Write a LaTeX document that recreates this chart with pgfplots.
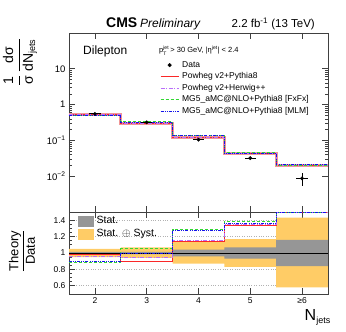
\documentclass[border=0pt]{standalone}
\usepackage{pgfplots}
\pgfplotsset{compat=1.18}
\usepackage{pgfplotstable}
\usepackage{fontspec}
\setmainfont{Liberation Sans}
\definecolor{cred}{RGB}{250,40,40}
\definecolor{cpink}{RGB}{240,150,150}
\definecolor{cpurple}{RGB}{185,110,250}
\definecolor{cgreen}{RGB}{50,215,50}
\definecolor{cblue}{RGB}{20,20,235}
\definecolor{cyel}{RGB}{255,204,102}
\definecolor{cgray}{RGB}{150,150,150}

% upper panel: theory at bin edges (value holds to the right)
\pgfplotstableread{
x red purple green blue
1.5 0.54 0.53 0.485 0.495
2.5 0.29 0.305 0.336 0.317
3.5 0.12 0.121 0.135 0.134
4.5 0.0425 0.043 0.0445 0.0435
5.5 0.0195 0.0195 0.0193 0.0214
6.5 0.0195 0.0195 0.0193 0.0214
}\theory
\pgfplotstableread{
x y ex ey
2 0.55 0.11 0.010
3 0.32 0.11 0.006
4 0.105 0.11 0.004
5 0.032 0.11 0.0025
6 0.0087 0.11 0.0033
}\data
% ratio panel
\pgfplotstableread{
x red purple green blue
1.5 0.98 0.96 0.88 0.90
2.5 0.90 0.95 1.05 0.99
3.5 1.14 1.155 1.29 1.28
4.5 1.33 1.35 1.39 1.36
5.5 1.497 1.497 1.497 1.497
6.5 1.497 1.497 1.497 1.497
}\ratio

\pgfplotsset{
  cmsaxis/.style={
    scale only axis, width=259pt,
    xmin=1.5, xmax=6.5,
    xtick={2,3,4,5,6},
    tick align=inside,
    major tick length=6pt, minor tick length=3pt,
    axis line style={black!75, line width=0.8pt},
    tick style={black!75, line width=0.6pt},
    ticklabel style={font=\fontsize{8.5}{9}\selectfont},
    /pgf/number format/assume math mode=true,
    legend cell align=left,
  },
}

\begin{document}
\begin{tikzpicture}[x=1pt,y=1pt]
\path (0,0) rectangle (346,332);

% ---------------- upper panel ----------------
\begin{axis}[cmsaxis,
  at={(69pt,120pt)}, anchor=south west, height=179pt,
  ymode=log, ymin=1e-3, ymax=100,
  xticklabels={},
  ytick={0.01,0.1,1,10},
  yticklabels={10\textsuperscript{−2},10\textsuperscript{−1},1,10},
  yticklabel style={font=\fontsize{9.5}{10}\selectfont},
  legend style={at={(0.352,0.850)}, anchor=north west, draw=none, fill=none,
    inner sep=0pt, outer sep=0pt, row sep=1pt, column sep=2pt,
    font=\fontsize{8.5}{9}\selectfont,
    nodes={inner sep=1pt, text height=6.5pt, text depth=2pt}},
  legend image code/.code={\draw[#1] (0pt,0pt) -- (18pt,0pt);},
]
\addplot[cpink, line width=3pt, const plot mark left, forget plot] table[x=x,y=red] {\theory};
\addplot[cred, line width=0.8pt, const plot mark left, forget plot] table[x=x,y=red] {\theory};
\addplot[cpurple, line width=1pt, dash pattern=on 4pt off 1.5pt on 1pt off 1.5pt, const plot mark left, forget plot] table[x=x,y=purple] {\theory};
\addplot[cgreen, line width=1pt, dash pattern=on 3pt off 2pt, const plot mark left, forget plot] table[x=x,y=green] {\theory};
\addplot[cblue, line width=1pt, dash pattern=on 3pt off 1.2pt on 0.8pt off 1.2pt on 0.8pt off 1.2pt, const plot mark left, forget plot] table[x=x,y=blue] {\theory};
\addplot[black, only marks, mark=*, mark size=1.7pt, forget plot,
  error bars/.cd, x dir=both, x explicit, y dir=both, y explicit, error mark=none,
  error bar style={line width=0.8pt}]
  table[x=x,y=y,x error=ex,y error=ey] {\data};

\addlegendimage{legend image code/.code={\fill[black] (9pt,0pt) circle (1.8pt);}}
\addlegendentry{Data}
\addlegendimage{draw=cred, line width=0.8pt}
\addlegendentry{Powheg v2+Pythia8}
\addlegendimage{draw=cpurple, line width=1pt, dash pattern=on 4pt off 1.5pt on 1pt off 1.5pt}
\addlegendentry{Powheg v2+Herwig++}
\addlegendimage{draw=cgreen, line width=1pt, dash pattern=on 3pt off 2pt}
\addlegendentry{MG5\_aMC@NLO+Pythia8 [FxFx]}
\addlegendimage{draw=cblue, line width=1pt, dash pattern=on 3pt off 1.2pt on 0.8pt off 1.2pt on 0.8pt off 1.2pt}
\addlegendentry{MG5\_aMC@NLO+Pythia8 [MLM]}
\end{axis}

% ---------------- ratio panel ----------------
\begin{axis}[cmsaxis,
  at={(69pt,38pt)}, anchor=south west, height=82pt,
  ymin=0.5, ymax=1.5,
  ytick={0.6,0.8,1,1.2,1.4},
  yticklabels={0.6,0.8,1,1.2,1.4},
  minor y tick num=3,
  xticklabels={2,3,4,5,≥6},
  ymajorgrids, grid style={dotted, black!30, line width=0.6pt},
  legend style={at={(0.036,0.967)}, anchor=north west, draw=none, fill=none,
    inner sep=0pt, outer sep=0pt, row sep=0.5pt, column sep=2pt,
    font=\fontsize{10.5}{11}\selectfont,
    nodes={inner sep=1pt, text height=8pt, text depth=2.5pt}},
]
% Stat. (+) Syst. band
\addplot[fill=cyel, draw=none, forget plot] coordinates {
 (1.5,1.05) (2.5,1.05) (2.5,1.07) (3.5,1.07) (3.5,1.14) (4.5,1.14) (4.5,1.17) (5.5,1.17) (5.5,1.43) (6.5,1.43)
 (6.5,0.58) (5.5,0.58) (5.5,0.83) (4.5,0.83) (4.5,0.87) (3.5,0.87) (3.5,0.94) (2.5,0.94) (2.5,0.95) (1.5,0.95)} -- cycle;
% Stat. band
\addplot[fill=cgray, draw=none, forget plot] coordinates {
 (1.5,1.015) (2.5,1.015) (2.5,1.015) (3.5,1.015) (3.5,1.04) (4.5,1.04) (4.5,1.07) (5.5,1.07) (5.5,1.16) (6.5,1.16)
 (6.5,0.84) (5.5,0.84) (5.5,0.93) (4.5,0.93) (4.5,0.96) (3.5,0.96) (3.5,0.985) (2.5,0.985) (2.5,0.985) (1.5,0.985)} -- cycle;
\addplot[black, line width=0.8pt, forget plot] coordinates {(1.5,1) (6.5,1)};
\addplot[cred, line width=0.9pt, const plot mark left, forget plot] table[x=x,y=red] {\ratio};
\addplot[cpurple, line width=1pt, dash pattern=on 4pt off 1.5pt on 1pt off 1.5pt, const plot mark left, forget plot] table[x=x,y=purple] {\ratio};
\addplot[cgreen, line width=1pt, dash pattern=on 3pt off 2pt, const plot mark left, forget plot] table[x=x,y=green] {\ratio};
\addplot[cblue, line width=1pt, dash pattern=on 3pt off 1.2pt on 0.8pt off 1.2pt on 0.8pt off 1.2pt, const plot mark left, forget plot] table[x=x,y=blue] {\ratio};

\addlegendimage{legend image code/.code={\fill[cgray] (0pt,-5pt) rectangle (15pt,5pt);}}
\addlegendentry{Stat.}
\addlegendimage{legend image code/.code={\fill[cyel] (0pt,-5pt) rectangle (15pt,5pt);}}
\addlegendentry{Stat. $\oplus$ Syst.}
\end{axis}

% ---------------- texts ----------------
\node[anchor=base west, inner sep=0pt] at (106,304) {\fontsize{14}{14}\selectfont\bfseries CMS};
\node[anchor=base west, inner sep=0pt] at (140,304) {\fontsize{12}{12}\selectfont\itshape Preliminary};
\node[anchor=base east, inner sep=0pt] at (315,304) {\fontsize{11.5}{12}\selectfont 2.2 fb\textsuperscript{-1} (13 TeV)};
\node[anchor=base west, inner sep=0pt] at (83,277) {\fontsize{12}{12}\selectfont Dilepton};
\node[anchor=base west, inner sep=0pt] at (159,279) {\fontsize{7.5}{8}\selectfont $\mbox{p}^{\mbox{\fontsize{5}{5}\selectfont jet}}_{\mbox{\fontsize{5}{5}\selectfont T}}$\,> 30 GeV, |η$^{\mbox{\fontsize{5}{5}\selectfont jet}}$| < 2.4};
\node[rotate=90, inner sep=0pt] at (20,270) {\fontsize{14}{14}\selectfont $\displaystyle\frac{\mbox{1}}{\mbox{σ}}\,\frac{\mbox{dσ}}{\mbox{dN}_{\mbox{\fontsize{9}{9}\selectfont jets}}}$};
\node[rotate=90, inner sep=0pt] at (22,81) {\fontsize{13}{13}\selectfont $\displaystyle\frac{\mbox{Theory}}{\mbox{Data}}$};
\node[anchor=base east, inner sep=0pt] at (331,11) {\fontsize{16}{16}\selectfont N\textsubscript{\fontsize{9}{9}\selectfont jets}};
\end{tikzpicture}
\end{document}
